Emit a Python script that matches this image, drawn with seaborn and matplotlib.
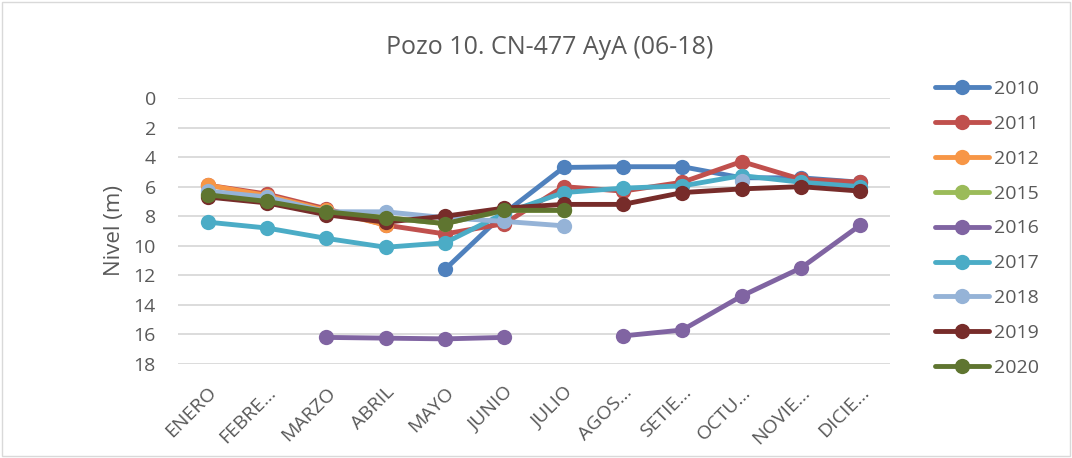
import numpy as np
import pandas as pd
import matplotlib.pyplot as plt
import seaborn as sns

meses = ['ENERO', 'FEBRE…', 'MARZO', 'ABRIL', 'MAYO', 'JUNIO', 'JULIO',
         'AGOS…', 'SETIE…', 'OCTU…', 'NOVIE…', 'DICIE…']
nan = np.nan
nivel_2010 = [nan, nan, nan, nan, 11.6, 7.8, 4.7, 4.65, 4.65, 5.4, 5.4, 5.7]
nivel_2011 = [5.9, 6.5, 7.5, 8.6, 9.2, 8.5, 6.0, 6.3, 5.7, 4.3, 5.5, 5.7]
nivel_2012 = [5.9, 6.6, 7.6, 8.6, nan, nan, nan, nan, nan, nan, nan, nan]
nivel_2015 = [6.5, 7.0, 7.7, 8.1, 8.5, 7.6, 7.6, nan, nan, nan, nan, nan]
nivel_2016 = [nan, nan, 16.2, 16.25, 16.3, 16.2, nan, 16.1, 15.7, 13.4, 11.5, 8.6]
nivel_2017 = [8.4, 8.8, 9.5, 10.1, 9.8, 7.8, 6.4, 6.1, 5.95, 5.25, 5.7, 6.0]
nivel_2018 = [6.3, 6.7, 7.7, 7.7, 8.1, 8.35, 8.65, nan, nan, 5.65, nan, nan]
nivel_2019 = [6.7, 7.1, 7.9, 8.4, 8.0, 7.45, 7.2, 7.2, 6.4, 6.15, 6.0, 6.3]
nivel_2020 = [6.55, 7.0, 7.7, 8.1, 8.5, 7.6, 7.6, nan, nan, nan, nan, nan]

anios = ['2010', '2011', '2012', '2015', '2016', '2017', '2018', '2019', '2020']
series = [nivel_2010, nivel_2011, nivel_2012, nivel_2015, nivel_2016,
          nivel_2017, nivel_2018, nivel_2019, nivel_2020]
colores = ['#4F81BD', '#C0504D', '#F79646', '#9BBB59', '#8064A2',
           '#4BACC6', '#95B3D7', '#772C2A', '#5F7530']

# tabla larga; los huecos cortan la linea (tramo distinto)
filas = []
for anio, valores in zip(anios, series):
    tramo = 0
    for i, v in enumerate(valores):
        if np.isnan(v):
            tramo += 1
            continue
        filas.append({'mes': i, 'nivel': v, 'anio': anio, 'tramo': tramo})
df = pd.DataFrame(filas)

sns.set_style('white')
plt.rcParams['font.family'] = ['Open Sans', 'DejaVu Sans']
gris = '#595959'

fig = plt.figure(figsize=(10.72, 4.58), dpi=100)
ax = fig.add_axes([178 / 1072, 1 - 364 / 458, (890 - 178) / 1072, (364 - 98) / 458])

sns.lineplot(data=df, x='mes', y='nivel', hue='anio', hue_order=anios,
             palette=colores, units='tramo', estimator=None, marker='o',
             markersize=11, markeredgewidth=0, linewidth=3.5, ax=ax, legend=False)

ax.set_xlim(-0.5, 11.5)
ax.set_ylim(18, 0)
ax.set_yticks(range(0, 19, 2))
ax.set_xticks(range(12))
ax.set_xticklabels(meses, rotation=45, ha='right', rotation_mode='anchor')
ax.yaxis.grid(True, color='#D9D9D9', linewidth=1.3)
ax.xaxis.grid(False)
for s in ax.spines.values():
    s.set_visible(False)
ax.tick_params(axis='both', length=0, labelsize=14, colors=gris)
ax.tick_params(axis='y', pad=16)
ax.tick_params(axis='x', pad=14)
ax.set_xlabel('')
ax.set_ylabel('Nivel (m)', fontsize=16, color=gris, labelpad=6)

fig.text(0.513, 1 - 48 / 458, 'Pozo 10. CN-477 AyA (06-18)', ha='center',
         va='center', fontsize=18, color=gris)

handles = [plt.Line2D([], [], color=c, linewidth=3.5, marker='o', markersize=11,
                      markeredgewidth=0) for c in colores]
leg = fig.legend(handles, anios, loc='upper left',
                 bbox_to_anchor=(927 / 1072, 1 - 72 / 458), frameon=False,
                 fontsize=14, labelspacing=0.87, handlelength=2.8,
                 handletextpad=0.25, borderaxespad=0)
for t in leg.get_texts():
    t.set_color(gris)

fig.patches.append(plt.Rectangle((0.002, 0.004), 0.996, 0.992,
                                 transform=fig.transFigure, fill=False,
                                 edgecolor='#D9D9D9', linewidth=1))

fig.savefig('out.png', dpi=100)
